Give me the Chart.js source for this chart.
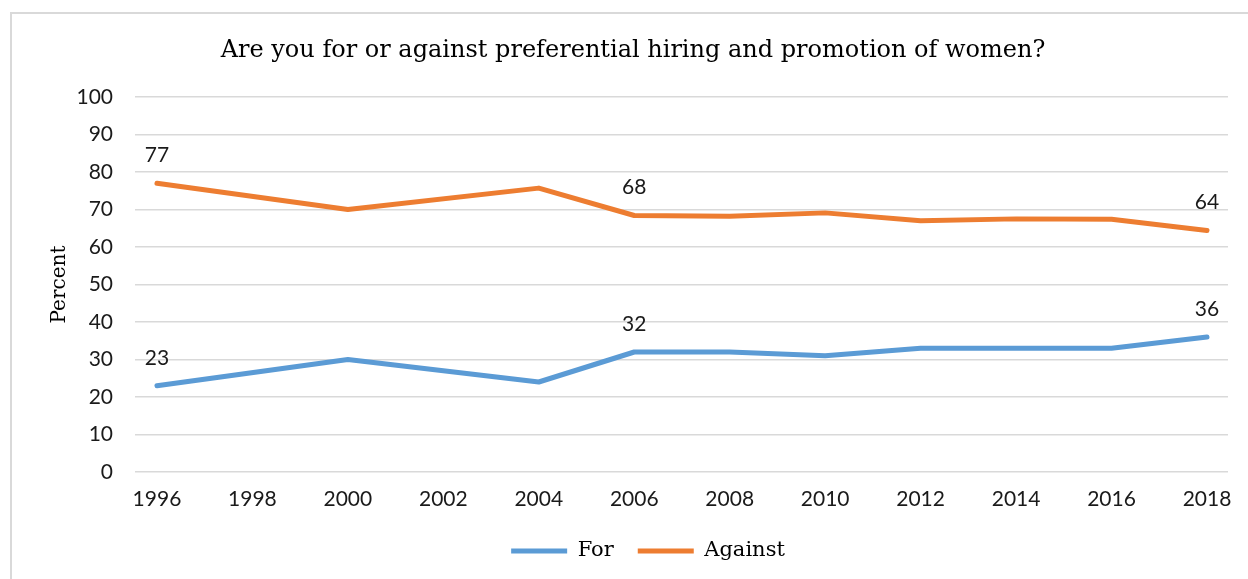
<!DOCTYPE html>
<html>
<head>
<meta charset="utf-8">
<script src="https://cdn.jsdelivr.net/npm/chart.js@4"></script>
<style>
  body { margin: 0; background: #fff; width: 1248px; height: 579px; overflow: hidden; position: relative; }
  #frame { position: absolute; left: 10px; top: 12px; width: 1300px; height: 700px; border: 2px solid #d9d9d9; }
  #chart { position: absolute; left: 0; top: 0; }
</style>
</head>
<body>
<div id="frame"></div>
<canvas id="chart" width="1248" height="579"></canvas>
<script>
// survey years with data (1998 and 2002 are missing)
const years = [1996, 2000, 2004, 2006, 2008, 2010, 2012, 2014, 2016, 2018];
const forValues = [23, 30, 24, 32, 32, 31, 33, 33, 33, 36];
const againstValues = [77, 70, 75.7, 68.4, 68.2, 69.1, 67, 67.5, 67.4, 64.4];
const tickYears = [1996, 1998, 2000, 2002, 2004, 2006, 2008, 2010, 2012, 2014, 2016, 2018];
const labelledYears = [1996, 2006, 2018];

const sansFont = "Lato, 'Liberation Sans', sans-serif";
const serifFont = "'DejaVu Serif', serif";

const pointLabels = {
  id: 'pointLabels',
  afterLayout(chart) {
    // title and legend sit a bit right of the canvas centre
    chart.titleBlock.left += 38;
    chart.legend.left += 68;
  },
  afterDatasetsDraw(chart) {
    const ctx = chart.ctx;
    ctx.save();
    ctx.font = "21px " + sansFont;
    ctx.fillStyle = '#1a1a1a';
    ctx.textAlign = 'center';
    ctx.textBaseline = 'middle';
    chart.data.datasets.forEach((ds, d) => {
      const meta = chart.getDatasetMeta(d);
      ds.data.forEach((p, i) => {
        if (labelledYears.includes(p.x)) {
          const el = meta.data[i];
          ctx.fillText(Math.round(p.y), el.x, el.y - 28);
        }
      });
    });
    ctx.restore();
  }
};

const ctx = document.getElementById('chart');
new Chart(ctx, {
  type: 'line',
  data: {
    datasets: [{
      label: 'For',
      data: years.map((y, i) => ({ x: y, y: forValues[i] })),
      borderColor: '#5b9bd5',
      backgroundColor: '#5b9bd5',
      borderWidth: 5
    }, {
      label: 'Against',
      data: years.map((y, i) => ({ x: y, y: againstValues[i] })),
      borderColor: '#ed7d31',
      backgroundColor: '#ed7d31',
      borderWidth: 5
    }]
  },
  plugins: [pointLabels],
  options: {
    responsive: false,
    animation: false,
    devicePixelRatio: 1,
    layout: { padding: { left: 0, right: 20, top: 0, bottom: 7.5 } },
    elements: {
      point: { radius: 0, hoverRadius: 0 },
      line: { tension: 0, borderCapStyle: 'round', borderJoinStyle: 'round' }
    },
    plugins: {
      tooltip: { enabled: false },
      title: {
        display: true,
        text: 'Are you for or against preferential hiring and promotion of women?',
        color: '#000',
        font: { family: serifFont, size: 24, weight: 'normal' },
        padding: { top: 36, bottom: 32.2 }
      },
      legend: {
        position: 'bottom',
        labels: {
          color: '#000',
          font: { family: serifFont, size: 21 },
          boxWidth: 56,
          boxHeight: 5,
          padding: 24,
          generateLabels(chart) {
            return chart.data.datasets.map((ds, i) => ({
              text: ds.label,
              fillStyle: ds.borderColor,
              strokeStyle: ds.borderColor,
              lineWidth: 0,
              datasetIndex: i
            }));
          }
        }
      }
    },
    scales: {
      x: {
        type: 'linear',
        min: 1995.54,
        max: 2018.44,
        afterBuildTicks(scale) {
          scale.ticks = tickYears.map(v => ({ value: v }));
        },
        afterFit(scale) { scale.height = 44.5; },
        grid: { display: false, drawTicks: false },
        border: { display: false },
        ticks: {
          padding: 15,
          color: '#1a1a1a',
          font: { family: sansFont, size: 21 },
          callback: v => String(v),
          maxRotation: 0,
          autoSkip: false
        }
      },
      y: {
        min: 0,
        max: 100,
        afterFit(scale) { scale.width = 135; },
        grid: { color: '#d9d9d9', lineWidth: 1.5, drawTicks: false },
        border: { display: false },
        ticks: {
          stepSize: 10,
          padding: 22,
          color: '#1a1a1a',
          font: { family: sansFont, size: 21 }
        },
        title: {
          display: true,
          text: 'Percent',
          color: '#000',
          font: { family: serifFont, size: 20 },
          padding: { top: 48, bottom: 0 }
        }
      }
    }
  }
});
</script>
</body>
</html>
